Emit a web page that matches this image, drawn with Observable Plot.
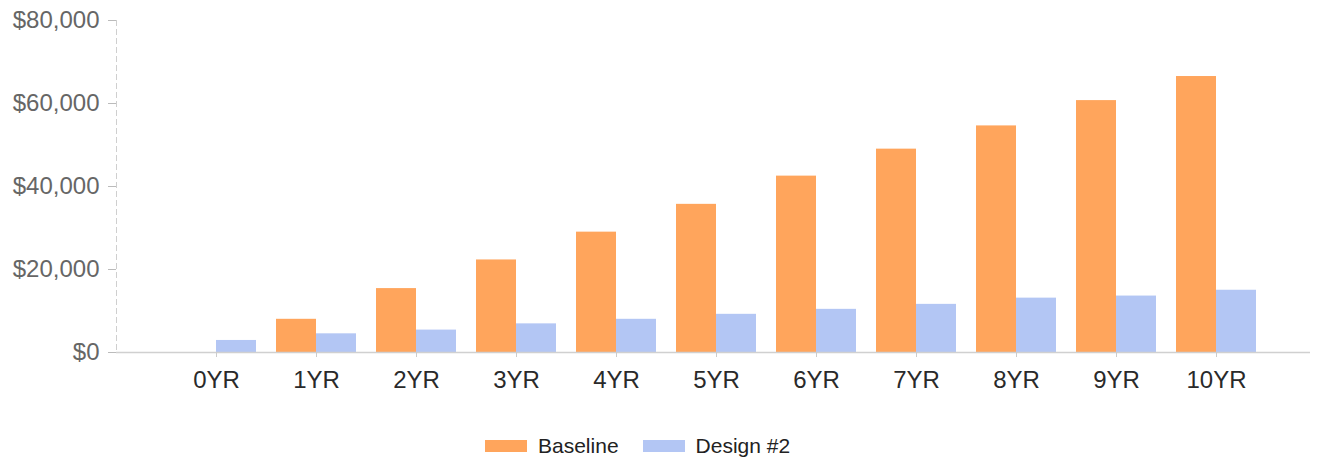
<!DOCTYPE html>
<html>
<head>
<meta charset="utf-8">
<script src="https://cdn.jsdelivr.net/npm/d3@7"></script>
<script src="https://cdn.jsdelivr.net/npm/@observablehq/plot@0.6"></script>
<style>
  html, body { margin: 0; padding: 0; background: #fff; }
  body { width: 1317px; font-family: "Liberation Sans", Arial, sans-serif; }
  #legend { display: flex; justify-content: flex-start; align-items: center; padding-left: 485px; padding-top: 33px; height: 26px; font-size: 21px; color: #222; }
  .sw { display: inline-block; width: 42px; height: 12px; margin-right: 11px; }
  .item { display: flex; align-items: center; margin-right: 24px; }
</style>
</head>
<body>
<div id="chart"></div>
<div id="legend"></div>
<script>
const years = ["0YR", "1YR", "2YR", "3YR", "4YR", "5YR", "6YR", "7YR", "8YR", "9YR", "10YR"];
const baseline = [0, 8000, 15400, 22300, 29000, 35700, 42500, 49000, 54600, 60700, 66500];
const design2 = [2900, 4500, 5400, 6900, 8000, 9200, 10400, 11600, 13100, 13600, 15000];
const seriesNames = ["Baseline", "Design #2"];
const seriesColors = ["#FFA55C", "#B3C6F4"];
const yTicks = [0, 20000, 40000, 60000, 80000];

const rowsBase = years.map((y, i) => ({year: y, value: baseline[i]}));
const rowsDesign = years.map((y, i) => ({year: y, value: design2[i]}));
const fmt = d3.format("$,");

const plot = Plot.plot({
  width: 1317,
  height: 400,
  marginLeft: 116,
  marginRight: 7,
  marginTop: 20,
  marginBottom: 48,
  style: {fontFamily: "'Liberation Sans', Arial, sans-serif", fontSize: "24px", background: "#fff"},
  x: {type: "band", domain: years, paddingInner: 0.2, paddingOuter: 0.1, insetLeft: 48, insetRight: 42, label: null},
  y: {domain: [0, 80000], label: null},
  marks: [
    Plot.barY(rowsBase, {x: "year", y: "value", fill: seriesColors[0], insetRight: 40}),
    Plot.barY(rowsDesign, {x: "year", y: "value", fill: seriesColors[1], insetLeft: 40}),
    Plot.ruleY([0], {stroke: "#d0d0d0", strokeWidth: 1.5}),
    Plot.frame({anchor: "left", stroke: "#cfcfcf", strokeDasharray: "5,4"}),
    Plot.axisY({ticks: yTicks, tickFormat: fmt, tickSize: 8, tickPadding: 9, fill: "#666", stroke: "#bbb", fontSize: 24, label: null}),
    Plot.axisX({tickSize: 5, tickPadding: 13, fill: "#2a2a2a", stroke: "#ccc", fontSize: 24, label: null})
  ]
});
document.getElementById("chart").appendChild(plot);

const legend = document.getElementById("legend");
seriesNames.forEach((name, i) => {
  const item = document.createElement("span");
  item.className = "item";
  const sw = document.createElement("span");
  sw.className = "sw";
  sw.style.background = seriesColors[i];
  item.appendChild(sw);
  item.appendChild(document.createTextNode(name));
  legend.appendChild(item);
});
</script>
</body>
</html>
